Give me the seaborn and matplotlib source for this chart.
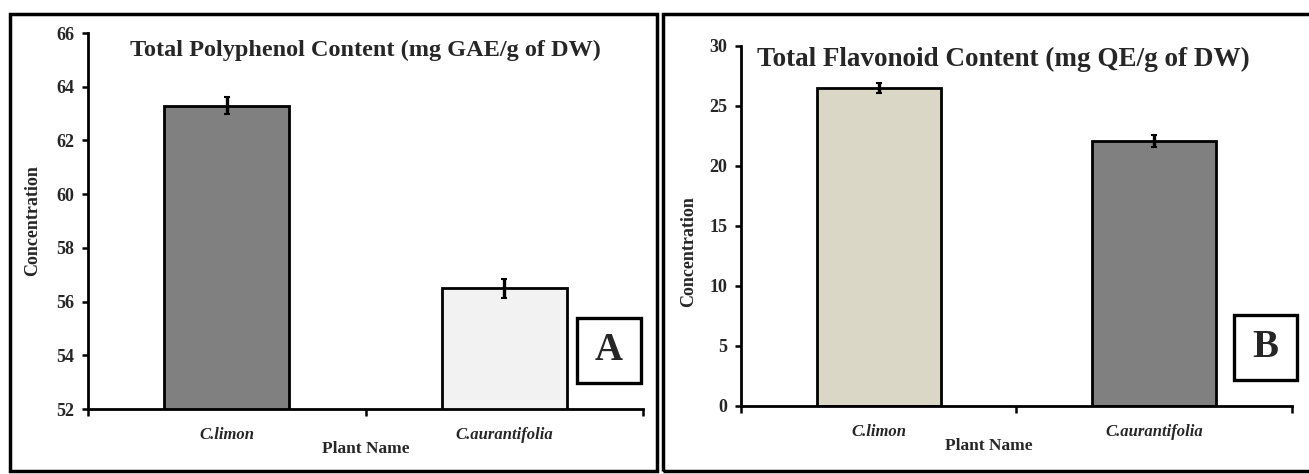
import matplotlib
matplotlib.use("Agg")
import matplotlib.pyplot as plt
from matplotlib.patches import Rectangle
import seaborn as sns
import pandas as pd

# ---- data ----
plants = ["C.limon", "C.aurantifolia"]
polyphenol = [63.3, 56.5]
polyphenol_err = [0.3, 0.35]
flavonoid = [26.5, 22.1]
flavonoid_err = [0.4, 0.5]
poly_colors = ["#808080", "#f2f2f2"]
flav_colors = ["#ddd9c3", "#808080"]
poly_ticks = [52, 54, 56, 58, 60, 62, 64, 66]
flav_ticks = [0, 5, 10, 15, 20, 25, 30]

sns.set_theme(style="white")
plt.rcParams['font.family'] = ['Liberation Serif', 'DejaVu Serif']
plt.rcParams['font.weight'] = 'bold'

W, H = 1309, 474
fig = plt.figure(figsize=(W / 100, H / 100), dpi=100)


def px_axes(x0, y0, x1, y1):
    return fig.add_axes([x0 / W, 1 - y1 / H, (x1 - x0) / W, (y1 - y0) / H])


def draw_panel(ax, values, errs, colors, ticks, title, title_xy, title_size,
               letter, box, ylabel_x, ylabel_y, xlabel_xy):
    df = pd.DataFrame({"Plant": plants, "Value": values})
    sns.barplot(data=df, x="Plant", y="Value", hue="Plant", palette=colors,
                width=0.45, edgecolor="black", linewidth=2.0, errorbar=None,
                legend=False, ax=ax)
    ax.errorbar(range(len(plants)), values, yerr=errs, fmt="none",
                ecolor="black", elinewidth=2.4, capsize=2.5, capthick=1.5)
    ax.set_xlim(-0.5, 1.5)
    ax.set_ylim(ticks[0], ticks[-1])
    ax.set_yticks(ticks)
    ax.set_yticklabels([str(t) for t in ticks], fontsize=13, fontweight="bold")
    ax.set_xticks([0, 1])
    ax.set_xticklabels(plants, fontsize=12, fontweight="bold", style="italic")
    ax.set_xticks([-0.5, 0.5, 1.5], minor=True)
    ax.tick_params(axis="x", which="major", bottom=True, length=0, pad=13)
    ax.tick_params(axis="x", which="minor", bottom=True, length=5, width=1.8,
                   direction="out", color="black")
    ax.tick_params(axis="y", left=True, length=4, width=1.8, direction="out",
                   pad=6, color="black")
    for s in ["top", "right"]:
        ax.spines[s].set_visible(False)
    for s in ["left", "bottom"]:
        ax.spines[s].set_color("black")
        ax.spines[s].set_linewidth(2.0)
    ax.set_ylabel("Concentration", fontsize=13, fontweight="bold")
    ax.yaxis.set_label_coords(ylabel_x, ylabel_y)
    ax.set_xlabel("Plant Name", fontsize=12.5, fontweight="bold")
    ax.xaxis.set_label_coords(*xlabel_xy)
    ax.set_facecolor("white")
    fig.text(title_xy[0] / W, 1 - title_xy[1] / H, title, fontsize=title_size,
             fontweight="bold", ha="center", va="center")
    bx0, by0, bx1, by1 = box
    fig.patches.append(Rectangle((bx0 / W, 1 - by1 / H), (bx1 - bx0) / W,
                                 (by1 - by0) / H, transform=fig.transFigure,
                                 fill=False, edgecolor="black", linewidth=2.4))
    fig.text((bx0 + bx1) / 2 / W, 1 - (by0 + by1) / 2 / H, letter,
             fontsize=28, fontweight="bold", ha="center", va="center")


axA = px_axes(88, 33, 643, 409)
draw_panel(axA, polyphenol, polyphenol_err, poly_colors, poly_ticks,
           "Total Polyphenol Content (mg GAE/g of DW)", (365, 50), 17.5,
           "A", (577, 318, 641, 383), -0.085, 0.5, (0.5, -0.085))

axB = px_axes(741, 46, 1292, 406)
draw_panel(axB, flavonoid, flavonoid_err, flav_colors, flav_ticks,
           "Total Flavonoid Content (mg QE/g of DW)", (1003, 59), 19.5,
           "B", (1234, 315, 1297, 380), -0.08, 0.43, (0.45, -0.09))

# outer panel frames
for (x0, y0, x1, y1) in [(10, 14, 657, 471), (663, 14, 1312, 471)]:
    fig.patches.append(Rectangle((x0 / W, 1 - y1 / H), (x1 - x0) / W,
                                 (y1 - y0) / H, transform=fig.transFigure,
                                 fill=False, edgecolor="black", linewidth=2.5))

fig.savefig("out.png", dpi=100, facecolor="white")
